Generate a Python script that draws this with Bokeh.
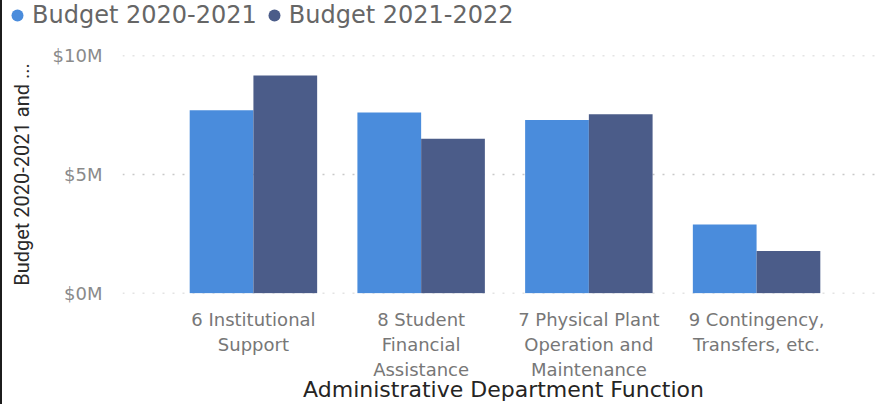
from bokeh.plotting import figure
from bokeh.layouts import column
from bokeh.models import (ColumnDataSource, Range1d, FixedTicker, PrintfTickFormatter,
                          Legend, LegendItem)
from bokeh.transform import dodge
from bokeh.embed import file_html
from bokeh.resources import INLINE

# ---- data ----
categories = ["6 Institutional\nSupport",
              "8 Student\nFinancial\nAssistance",
              "7 Physical Plant\nOperation and\nMaintenance",
              "9 Contingency,\nTransfers, etc."]
budget_2020_2021 = [7.71, 7.61, 7.29, 2.89]   # $M
budget_2021_2022 = [9.17, 6.51, 7.54, 1.78]   # $M
series_names = ["Budget 2020-2021", "Budget 2021-2022"]
y_ticks = [0, 5, 10]

colors = ["#4A8CDC", "#4B5C89"]
edge = {"border-left": "2px solid #1c1c1c"}

positions = list(range(len(categories)))
source = ColumnDataSource(dict(pos=positions, a=budget_2020_2021, b=budget_2021_2022))

# ---- legend strip (its ranges keep the swatch points out of view) ----
lg = figure(width=882, height=43, output_backend="svg", toolbar_location=None,
            x_range=Range1d(-20, -19), y_range=Range1d(-20, -19),
            x_axis_location=None, y_axis_location=None, min_border=0)
if "frame_align" in lg.properties():
    lg.frame_align = False
lg.styles = edge
lg.grid.visible = False
lg.outline_line_color = None
l_a = lg.scatter(x="pos", y="a", source=source, marker="circle",
                 fill_color=colors[0], line_color=None)
l_b = lg.scatter(x="pos", y="b", source=source, marker="circle",
                 fill_color=colors[1], line_color=None)
legend = Legend(items=[LegendItem(label=series_names[0], renderers=[l_a]),
                       LegendItem(label=series_names[1], renderers=[l_b])],
                orientation="horizontal", location="top_left",
                padding=10, margin=0, spacing=2,
                glyph_width=30, glyph_height=30, label_standoff=0,
                label_text_font="DejaVu Sans", label_text_font_size="24px",
                label_text_color="#666666",
                border_line_color=None, background_fill_color=None,
                background_fill_alpha=0)
lg.add_layout(legend, "center")

# ---- main chart ----
p = figure(width=882, height=361, output_backend="svg", toolbar_location=None,
           x_range=Range1d(-0.7806, 3.7627), y_range=Range1d(-0.01, 10.01),
           min_border_left=120, min_border_right=0, min_border_top=12,
           min_border_bottom=109)
if "frame_align" in p.properties():
    p.frame_align = False
p.styles = edge
p.outline_line_color = None

bw = 0.38
p.vbar(x=dodge("pos", -bw / 2, range=p.x_range), top="a", width=bw,
       source=source, fill_color=colors[0], line_color=None)
p.vbar(x=dodge("pos", bw / 2, range=p.x_range), top="b", width=bw,
       source=source, fill_color=colors[1], line_color=None)

# y axis
p.yaxis.ticker = FixedTicker(ticks=y_ticks)
p.yaxis.formatter = PrintfTickFormatter(format="$%dM")
p.yaxis.axis_line_color = None
p.yaxis.major_tick_line_color = None
p.yaxis.minor_tick_line_color = None
p.yaxis.major_tick_out = 0
p.yaxis.major_tick_in = 0
p.yaxis.major_label_standoff = 20
p.yaxis.major_label_text_font = "DejaVu Sans"
p.yaxis.major_label_text_font_size = "18px"
p.yaxis.major_label_text_color = "#8A8A8A"
p.yaxis.axis_label = "Budget 2020-2021 and ..."
p.yaxis.axis_label_text_font = "Roboto"
p.yaxis.axis_label_text_font_size = "20px"
p.yaxis.axis_label_text_font_style = "normal"
p.yaxis.axis_label_text_color = "#2A2A2A"
p.yaxis.axis_label_standoff = 16

# x axis
p.xaxis.ticker = FixedTicker(ticks=positions)
p.xaxis.major_label_overrides = {i: c for i, c in enumerate(categories)}
p.xaxis.axis_line_color = None
p.xaxis.major_tick_line_color = None
p.xaxis.minor_tick_line_color = None
p.xaxis.major_tick_out = 0
p.xaxis.major_tick_in = 0
p.xaxis.major_label_standoff = 15
p.xaxis.major_label_text_font = "DejaVu Sans"
p.xaxis.major_label_text_font_size = "18px"
p.xaxis.major_label_text_color = "#777777"
p.xaxis.axis_label = "Administrative Department Function"
p.xaxis.axis_label_text_font = "DejaVu Sans"
p.xaxis.axis_label_text_font_size = "22px"
p.xaxis.axis_label_text_font_style = "normal"
p.xaxis.axis_label_text_color = "#252423"
p.xaxis.axis_label_standoff = -6

# grid
p.xgrid.visible = False
p.ygrid.ticker = FixedTicker(ticks=y_ticks)
p.ygrid.grid_line_color = "#C8C8C8"
p.ygrid.grid_line_dash = "2 8"
p.ygrid.grid_line_width = 1.5

layout = column(lg, p, spacing=0)
open("out.html", "w").write(file_html(layout, INLINE))
